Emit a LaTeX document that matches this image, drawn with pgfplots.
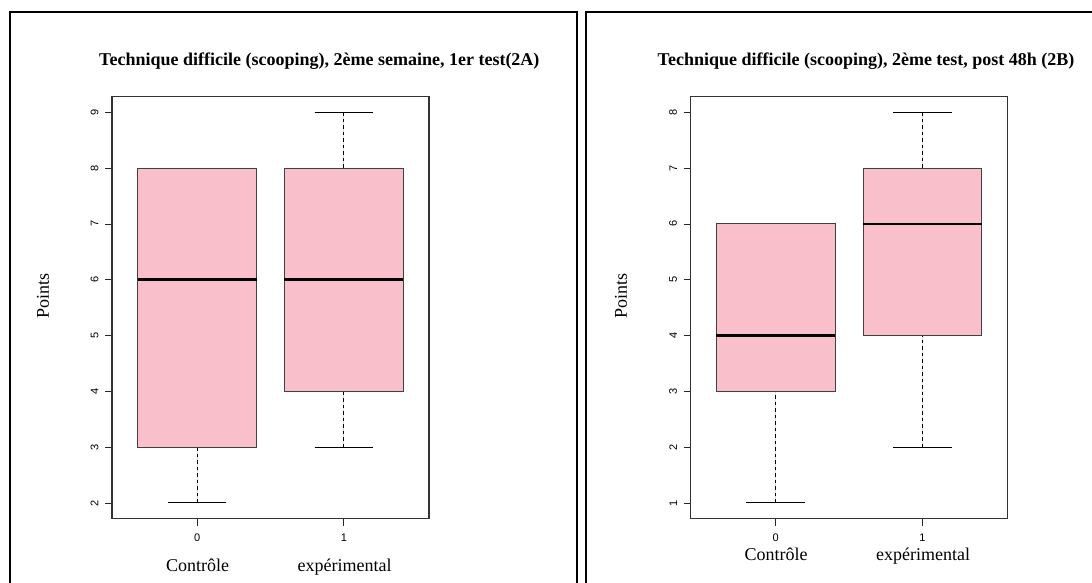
\documentclass[border=0pt]{standalone}
\usepackage{fontspec}
\setmainfont{Liberation Serif}
\setsansfont{Liberation Sans}
\usepackage{pgfplots}
\pgfplotsset{compat=1.18}
\usepgfplotslibrary{statistics}
\definecolor{boxpink}{HTML}{F9BFCA}
\pgfplotsset{
  rbox/.style={
    scale only axis, width=317pt, height=421.9pt,
    xmin=-0.58, xmax=1.58,
    xtick={0,1}, xticklabels={0,1},
    xtick pos=bottom, ytick pos=left,
    tick align=outside, major tick length=7pt,
    every tick/.style={black!85, line width=0.8pt},
    axis line style={black!80, line width=1.3pt},
    ticklabel style={font=\fontsize{11}{13}\selectfont\sffamily},
    xticklabel style={yshift=-5pt},
    yticklabel style={rotate=90, anchor=south, yshift=3pt},
    /pgf/number format/assume math mode=true,
    boxplot/draw direction=y,
    boxplot/box extend=0.81,
    boxplot/whisker extend=0.40,
    boxplot/draw/lower whisker/.code={%
      \draw[black, line width=0.9pt, dash pattern=on 3.5pt off 3pt]
        (boxplot box cs:\pgfplotsboxplotvalue{lower whisker},0.5) --
        (boxplot box cs:\pgfplotsboxplotvalue{lower quartile},0.5);
      \draw[black, line width=1pt, solid]
        (boxplot whisker cs:\pgfplotsboxplotvalue{lower whisker},0) --
        (boxplot whisker cs:\pgfplotsboxplotvalue{lower whisker},1);
    },
    boxplot/draw/upper whisker/.code={%
      \draw[black, line width=0.9pt, dash pattern=on 3.5pt off 3pt]
        (boxplot box cs:\pgfplotsboxplotvalue{upper whisker},0.5) --
        (boxplot box cs:\pgfplotsboxplotvalue{upper quartile},0.5);
      \draw[black, line width=1pt, solid]
        (boxplot whisker cs:\pgfplotsboxplotvalue{upper whisker},0) --
        (boxplot whisker cs:\pgfplotsboxplotvalue{upper whisker},1);
    },
    boxplot/every median/.style={line width=2.8pt, black},
    clip=false,
  },
  rplot/.style={fill=boxpink, draw=black!75, line width=1.1pt},
}
\begin{document}
\begin{tikzpicture}[x=1pt,y=1pt]
\path[use as bounding box] (0,0) rectangle (1092,583);
\clip (0,0) rectangle (1092,583);
% panel frames
\draw[black, line width=1.8pt] (10,-20) -- (10,571) -- (577,571) -- (577,-20);
\draw[black, line width=1.8pt] (586,-20) -- (586,571) -- (1120,571) -- (1120,-20);

% ---------- left panel ----------
\begin{axis}[rbox, at={(112pt,64.4pt)}, anchor=south west,
  ymin=1.72, ymax=9.28, ytick={2,3,4,5,6,7,8,9}]
\addplot[rplot, boxplot prepared={draw position=0, lower whisker=2,
  lower quartile=3, median=6, upper quartile=8, upper whisker=8}] coordinates {};
\addplot[rplot, boxplot prepared={draw position=1, lower whisker=3,
  lower quartile=4, median=6, upper quartile=8, upper whisker=9}] coordinates {};
\end{axis}
\node[anchor=base east, font=\fontsize{18}{20}\selectfont\bfseries] at (543,517) {Technique difficile (scooping), 2ème semaine, 1er test(2A)};
\node[rotate=90, font=\fontsize{18}{20}\selectfont] at (43,287) {Points};
\node[anchor=base, font=\fontsize{18}{20}\selectfont] at (197.6,11) {Contrôle};
\node[anchor=base, font=\fontsize{18}{20}\selectfont] at (344.6,11) {expérimental};

% ---------- right panel ----------
\begin{axis}[rbox, at={(690.6pt,64.4pt)}, anchor=south west,
  ymin=0.72, ymax=8.28, ytick={1,2,3,4,5,6,7,8}]
\addplot[rplot, boxplot prepared={draw position=0, lower whisker=1,
  lower quartile=3, median=4, upper quartile=6, upper whisker=6}] coordinates {};
\addplot[rplot, boxplot prepared={draw position=1, lower whisker=2,
  lower quartile=4, median=6, upper quartile=7, upper whisker=8}] coordinates {};
\end{axis}
\node[anchor=base east, font=\fontsize{18}{20}\selectfont\bfseries] at (1078,517) {Technique difficile (scooping), 2ème test, post 48h (2B)};
\node[rotate=90, font=\fontsize{18}{20}\selectfont] at (621,287) {Points};
\node[anchor=base, font=\fontsize{18}{20}\selectfont] at (776.2,22) {Contrôle};
\node[anchor=base, font=\fontsize{18}{20}\selectfont] at (923.2,22) {expérimental};
\end{tikzpicture}
\end{document}
